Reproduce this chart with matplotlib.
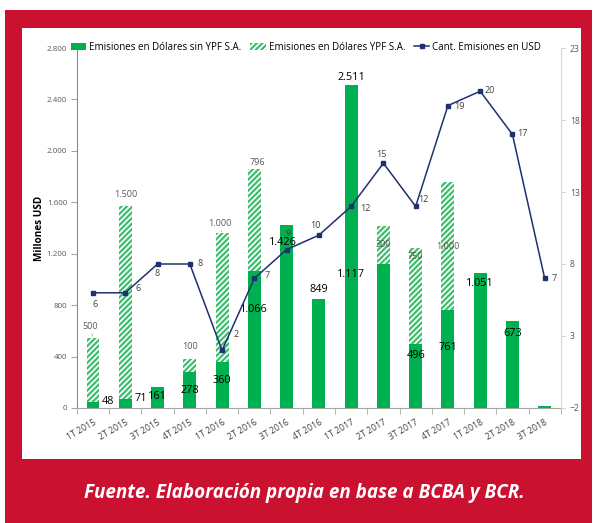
import matplotlib
matplotlib.use("Agg")
import matplotlib.pyplot as plt
from matplotlib.patches import Patch, Rectangle
from matplotlib.lines import Line2D
from matplotlib.ticker import FuncFormatter
import numpy as np

plt.rcParams['font.family'] = ['Open Sans', 'DejaVu Sans']
plt.rcParams['hatch.linewidth'] = 1.6

quarters = ["1T 2015", "2T 2015", "3T 2015", "4T 2015", "1T 2016", "2T 2016",
            "3T 2016", "4T 2016", "1T 2017", "2T 2017", "3T 2017", "4T 2017",
            "1T 2018", "2T 2018", "3T 2018"]
sin_ypf = [48, 71, 161, 278, 360, 1066, 1426, 849, 2511, 1117, 496, 761, 1051, 673, 15]
ypf = [500, 1500, 0, 100, 1000, 796, 0, 0, 0, 300, 750, 1000, 0, 0, 0]
cant = [6, 6, 8, 8, 2, 7, 9, 10, 12, 15, 12, 19, 20, 17, 7]

GREEN = '#00B050'
HATCH_GREEN = '#3DBE6E'
NAVY = '#1F3170'
RED = '#CB1130'

# label placement (offset in pixels from the top of the mark)
sin_off = [(9, 0, 'left'), (9, 0, 'left'), (0, -9, 'center'), (0, -18, 'center'),
           (0, -19, 'center'), (0, -39, 'center'), (-4, -18, 'center'), (0, 9, 'center'),
           (0, 8, 'center'), (-32, -10, 'center'), (0, -11, 'center'), (0, -37, 'center'),
           (0, -11, 'center'), (0, -12, 'center'), None]
ypf_off = {0: (-3, 11, True), 1: (0, 12, True), 3: (0, 13, True), 4: (-2, 10, True),
           5: (3, 6, False), 9: (0, -19, False), 10: (0, -9, False), 11: (0, -65, False)}
cant_off = [(2, -12), (13, 4), (0, -10), (10, 0), (14, 16), (13, 3), (2, 16), (-3, 10),
            (14, -2), (-2, 9), (8, 7), (11, -1), (10, 1), (10, 1), (9, 0)]


def miles(v, pos=None):
    return f"{int(v):,}".replace(",", ".")


fig = plt.figure(figsize=(5.96, 5.23), dpi=100)

# red frame
fig.patches.append(Rectangle((0.0084, 0), 0.985, 0.981, transform=fig.transFigure,
                             facecolor=RED, edgecolor='none', zorder=-10))
fig.patches.append(Rectangle((0.0369, 0.1224), 0.9379, 0.8241, transform=fig.transFigure,
                             facecolor='white', edgecolor='none', zorder=-9))
fig.text(0.511, 0.0574, "Fuente. Elaboración propia en base a BCBA y BCR.", color='white',
         fontsize=13.6, fontweight='bold', fontstyle='italic', ha='center', va='center')

ax = fig.add_axes([0.129, 0.2199, 0.812, 0.6883])
ax.patch.set_alpha(0)
x = np.arange(len(quarters))
w = 0.4

ax.bar(x, sin_ypf, w, color=GREEN, zorder=2)
ax.bar(x, ypf, w, bottom=sin_ypf, facecolor='white', edgecolor=HATCH_GREEN,
       linewidth=0, hatch='//////', zorder=2)

ax.set_xlim(-0.5, len(quarters) - 0.5)
ax.set_ylim(0, 2800)
ax.set_yticks(np.arange(0, 2801, 400))
ax.yaxis.set_major_formatter(FuncFormatter(miles))
ax.set_xticks(x)
ax.set_xticklabels(quarters, rotation=30, ha='right', rotation_mode='anchor')
ax.set_xticks(np.arange(-0.5, len(quarters), 1), minor=True)
ax.tick_params(axis='x', which='major', length=0, labelsize=6.3, labelcolor='#404040', pad=7)
ax.tick_params(axis='x', which='minor', length=4, color='#A6A6A6')
ax.tick_params(axis='y', labelsize=5.8, labelcolor='#595959', length=4, color='#A6A6A6', pad=3)
ax.set_ylabel("Millones USD", fontsize=7.2, fontweight='bold', va='center')
ax.yaxis.set_label_coords(-0.078, 0.5)
for s in ['top', 'right']:
    ax.spines[s].set_visible(False)
ax.spines['left'].set_color('#8C8C8C')
ax.spines['bottom'].set_color('#A6A6A6')

for i, v in enumerate(sin_ypf):
    o = sin_off[i]
    if o is None:
        continue
    ax.annotate(miles(v), (i, v), xytext=(o[0], o[1]), textcoords='offset pixels',
                ha=o[2], va='center', fontsize=7.8, color='black', zorder=5)

for i, (dx, dy, lead) in ypf_off.items():
    top = sin_ypf[i] + ypf[i]
    kw = dict(arrowprops=dict(arrowstyle='-', color='#A6A6A6', lw=0.6,
                              shrinkA=3, shrinkB=1)) if lead else {}
    ax.annotate(miles(ypf[i]), (i, top), xytext=(dx, dy), textcoords='offset pixels',
                ha='center', va='center', fontsize=6.5, color='#595959', zorder=5, **kw)

ax2 = ax.twinx()
ax2.plot(x, cant, color=NAVY, lw=1.1, marker='s', ms=3.2, zorder=4)
ax2.set_ylim(-2, 23)
ax2.set_yticks([-2, 3, 8, 13, 18, 23])
ax2.tick_params(axis='y', labelsize=6.2, labelcolor='#595959', length=3, color='#D0D0D0')
for s in ['top', 'left', 'bottom']:
    ax2.spines[s].set_visible(False)
ax2.spines['right'].set_color('#D9D9D9')

for i, v in enumerate(cant):
    dx, dy = cant_off[i]
    ax2.annotate(str(v), (i, v), xytext=(dx, dy), textcoords='offset pixels',
                 ha='center', va='center', fontsize=6.5, color='#404040', zorder=5)

handles = [Patch(facecolor=GREEN, edgecolor='none'),
           Patch(facecolor='white', edgecolor=HATCH_GREEN, linewidth=0, hatch='//////'),
           Line2D([], [], color=NAVY, lw=1.1, marker='s', ms=3.2)]
labels = ["Emisiones en Dólares sin YPF S.A.", "Emisiones en Dólares YPF S.A.",
          "Cant. Emisiones en USD"]
fig.legend(handles, labels, loc='center', bbox_to_anchor=(306 / 596, 1 - 47 / 523), ncol=3,
           frameon=False, fontsize=7, handlelength=1.6, handleheight=0.7,
           handletextpad=0.3, columnspacing=0.9)

fig.savefig("out.png", dpi=100)
